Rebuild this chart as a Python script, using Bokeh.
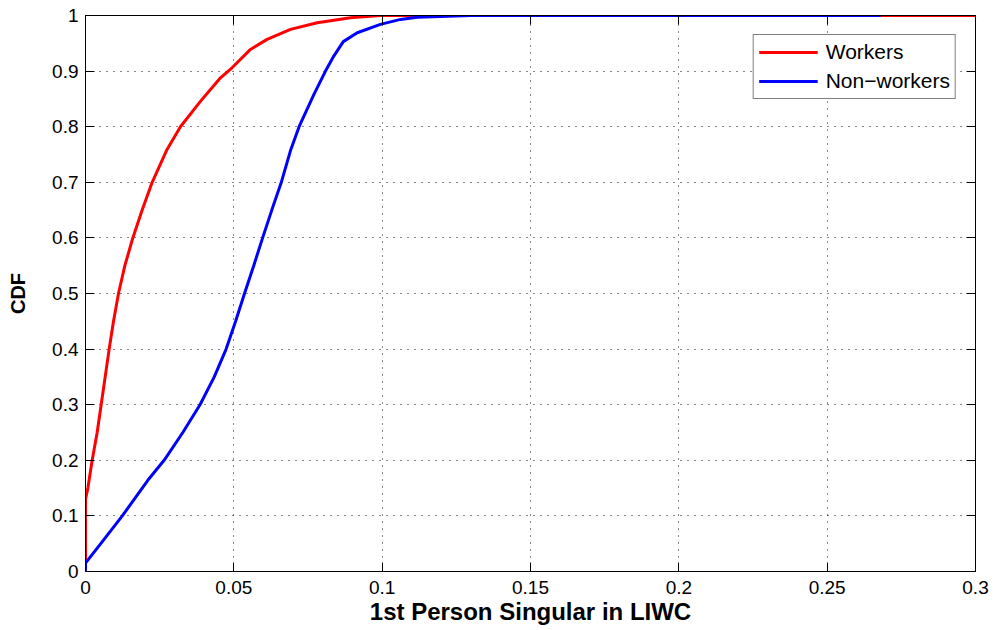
from bokeh.plotting import figure
from bokeh.models import FixedTicker, LinearAxis, Legend, LegendItem, Range1d, CustomLabelingPolicy
from bokeh.embed import file_html
from bokeh.resources import INLINE

# Workers CDF
workers_x = [0, 0, 0.0008, 0.00225, 0.00393, 0.00528, 0.00663, 0.00798, 0.00944, 0.01112, 0.01326,
             0.01595, 0.0191, 0.02247, 0.0273, 0.032, 0.0388, 0.0455, 0.0494, 0.0556, 0.0612,
             0.0691, 0.0781, 0.0893, 0.0994, 0.3]
workers_y = [0, 0.13, 0.15, 0.2, 0.25, 0.3, 0.35, 0.4, 0.45, 0.5, 0.55,
             0.6, 0.65, 0.7, 0.757, 0.8, 0.846, 0.888, 0.906, 0.939, 0.957,
             0.975, 0.987, 0.996, 1.0, 1.0]

# Non-workers CDF
nonworkers_x = [0, 0, 0.006, 0.0124, 0.021, 0.0265, 0.0328, 0.0386, 0.0434, 0.0474, 0.0506,
                0.0536, 0.0567, 0.0597, 0.0628, 0.066, 0.0691, 0.072, 0.077, 0.0809,
                0.0837, 0.0869, 0.0916, 0.0994, 0.1062, 0.1118, 0.13, 0.268]
nonworkers_y = [0, 0.015, 0.056, 0.1, 0.164, 0.2, 0.25, 0.3, 0.35, 0.4, 0.45,
                0.5, 0.55, 0.6, 0.65, 0.7, 0.757, 0.8, 0.858, 0.9,
                0.927, 0.953, 0.969, 0.984, 0.993, 0.997, 1.0, 1.0]

x_ticks = [0, 0.05, 0.1, 0.15, 0.2, 0.25, 0.3]
x_tick_labels = ["0", "0.05", "0.1", "0.15", "0.2", "0.25", "0.3"]
y_ticks = [0, 0.1, 0.2, 0.3, 0.4, 0.5, 0.6, 0.7, 0.8, 0.9, 1.0]
y_tick_labels = ["0", "0.1", "0.2", "0.3", "0.4", "0.5", "0.6", "0.7", "0.8", "0.9", "1"]

FONT = "Liberation Sans"

p = figure(width=995, height=630, output_backend="svg", toolbar_location=None,
           x_range=Range1d(0, 0.3), y_range=Range1d(0, 1),
           min_border_left=85, min_border_right=20, min_border_top=15, min_border_bottom=59)
p.background_fill_color = "white"
p.border_fill_color = "white"
p.outline_line_color = "black"
p.outline_line_width = 1

r1 = p.line(workers_x, workers_y, line_color="#ff0000", line_width=3)
r2 = p.line(nonworkers_x, nonworkers_y, line_color="#0000ff", line_width=3)

for ax, ticks, labels in ((p.xaxis[0], x_ticks, x_tick_labels), (p.yaxis[0], y_ticks, y_tick_labels)):
    ax.ticker = FixedTicker(ticks=ticks)
    ax.major_label_overrides = {t: l for t, l in zip(ticks, labels)}
    ax.major_tick_in = 9
    ax.major_tick_out = 0
    ax.minor_tick_line_color = None
    ax.axis_line_color = "black"
    ax.major_tick_line_color = "black"
    ax.major_label_text_font = FONT
    ax.major_label_text_font_size = "19px"
    ax.major_label_text_color = "black"
    ax.axis_label_text_font = FONT
    ax.axis_label_text_font_style = "bold"
    ax.axis_label_text_color = "black"

p.xaxis[0].axis_label = "1st Person Singular in LIWC"
p.yaxis[0].axis_label = "CDF"
p.xaxis[0].axis_label_text_font_size = "24px"
p.yaxis[0].axis_label_text_font_size = "20px"
p.xaxis[0].major_label_standoff = 9
p.yaxis[0].major_label_standoff = 7
p.xaxis[0].axis_label_standoff = 1
p.yaxis[0].axis_label_standoff = 20

no_labels = CustomLabelingPolicy(code="return []")
for loc, ticks in (("above", x_ticks), ("right", y_ticks)):
    ax = LinearAxis(ticker=FixedTicker(ticks=ticks), major_tick_in=9, major_tick_out=0,
                    minor_tick_line_color=None, major_label_text_font_size="1px",
                    major_label_policy=no_labels,
                    major_label_standoff=0, axis_line_color="black", major_tick_line_color="black")
    p.add_layout(ax, loc)

p.xgrid.ticker = FixedTicker(ticks=x_ticks)
p.ygrid.ticker = FixedTicker(ticks=y_ticks)
for g in (p.xgrid[0], p.ygrid[0]):
    g.grid_line_color = "#111111"
    g.grid_line_dash = "1 6"
    g.grid_line_width = 1

legend = Legend(items=[LegendItem(label="Workers", renderers=[r1]),
                       LegendItem(label="Non\u2212workers", renderers=[r2])],
                location="top_right")
legend.margin = 19
legend.padding = 5
legend.spacing = 5
legend.glyph_width = 59
legend.glyph_height = 20
legend.label_height = 20
legend.label_standoff = 8
legend.label_text_font = FONT
legend.label_text_font_size = "21px"
legend.label_text_color = "black"
legend.border_line_color = "black"
legend.border_line_width = 1
legend.background_fill_color = "white"
legend.background_fill_alpha = 1
p.add_layout(legend)

open("out.html", "w").write(file_html(p, INLINE))
